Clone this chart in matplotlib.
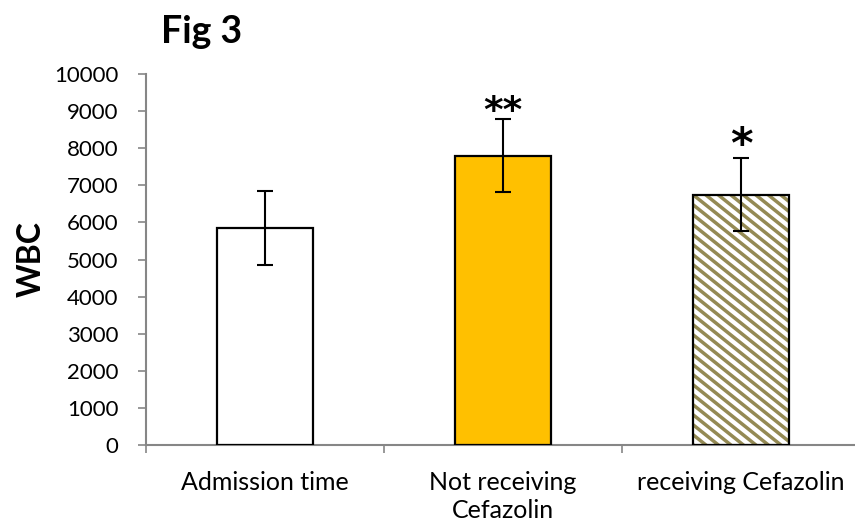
import matplotlib
matplotlib.use("Agg")
import matplotlib.pyplot as plt
from matplotlib.lines import Line2D
from matplotlib.transforms import IdentityTransform
import numpy as np

categories = ["Admission time", "Not receiving\nCefazolin", "receiving Cefazolin"]
values = [5850, 7800, 6750]
errors = [990, 990, 985]
stars = ["", "**", "*"]
yticks = list(range(0, 10001, 1000))

plt.rcParams['font.family'] = ['Lato', 'DejaVu Sans']

fig = plt.figure(figsize=(8.55, 5.22), dpi=100)
ax = fig.add_axes([146/855, 1-445/522, (860-146)/855, (445-74)/522])

x = np.arange(len(categories))
faces = ['white', '#FFC000', 'white']
striped = [False, False, True]
star_size = [0, 27, 31]
star_off = [0, -3, 0]
bars = []
for i in range(len(categories)):
    b = ax.bar(x[i], values[i], width=0.40, color=faces[i], edgecolor='none',
               linewidth=0, zorder=2)[0]
    ax.bar(x[i], values[i], width=0.40, fill=False, edgecolor='black',
           linewidth=1.6, zorder=2.6)
    bars.append(b)
    ax.errorbar(x[i], values[i], yerr=errors[i], fmt='none', ecolor='black',
                elinewidth=1.5, capsize=6, capthick=1.5, zorder=3)
    if stars[i]:
        ax.annotate(stars[i], (x[i], values[i] + errors[i]), xytext=(0, star_off[i]),
                    textcoords='offset pixels', ha='center', va='baseline',
                    fontsize=star_size[i], fontweight='bold', family=['DejaVu Sans'])

ax.set_xlim(-0.5, 2.5)
ax.set_ylim(0, 10000)
ax.set_yticks(yticks)
ax.set_yticklabels([str(t) for t in yticks], fontsize=16)
ax.set_xticks(x)
ax.set_xticklabels(categories, fontsize=18, linespacing=1.22)
ax.set_xticks([-0.5, 0.5, 1.5, 2.5], minor=True)
ax.tick_params(axis='x', which='major', length=0, pad=19)
ax.tick_params(axis='x', which='minor', length=6, color='#868686', width=1.2)
ax.tick_params(axis='y', length=6, color='#868686', width=1.2, pad=14)
for s in ['top', 'right']:
    ax.spines[s].set_visible(False)
for s in ['left', 'bottom']:
    ax.spines[s].set_color('#868686')
    ax.spines[s].set_linewidth(1.5)

ax.set_ylabel("WBC", fontsize=23, fontweight='bold')
ax.yaxis.set_label_coords(-0.141, 0.5)
fig.text(161/855, 1-43/522, "Fig 3", fontsize=27, fontweight='bold', va='baseline', ha='left')

# diagonal stripe texture for the striped bar
fig.canvas.draw()
slope = 0.8
step = 12.5
for i, b in enumerate(bars):
    if not striped[i]:
        continue
    bb = b.get_window_extent()
    h = bb.y1 - bb.y0
    run = h / slope
    xs = np.arange(bb.x0 - run - step, bb.x1 + step, step)
    for xk in xs:
        ln = Line2D([xk, xk + run + 40], [bb.y1, bb.y1 - (run + 40) * slope],
                    transform=IdentityTransform(), color='#948A54', linewidth=2.5,
                    zorder=2.3, solid_capstyle='butt')
        ax.add_artist(ln)
        ln.set_clip_box(None)
        ln.set_clip_path(b)

fig.savefig("out.png", dpi=100)
